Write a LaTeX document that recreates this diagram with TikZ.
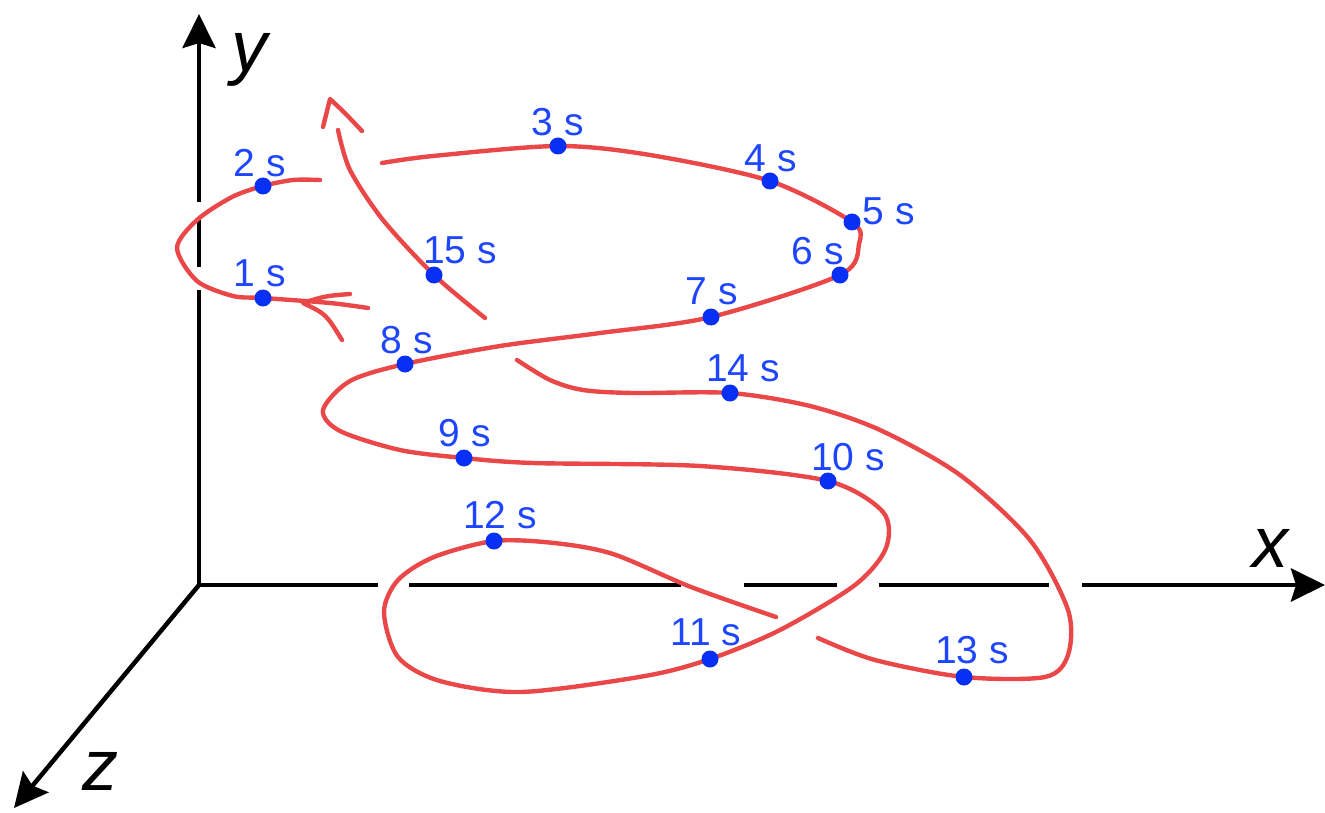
\documentclass[tikz,border=0pt]{standalone}
\usepackage{fontspec}
\setmainfont{Liberation Sans}
\usetikzlibrary{arrows.meta}
\definecolor{trajc}{RGB}{234,72,72}
\definecolor{dotb}{RGB}{8,48,245}
\definecolor{labb}{RGB}{30,70,255}
\tikzset{
  traj/.style={draw=trajc, line width=4.4pt, line cap=round, line join=round},
  axis/.style={draw=black, line width=4.5pt},
  axtip/.style={-{Stealth[length=34pt, width=33pt, inset=5pt]}},
  dot/.style={circle, fill=dotb, inner sep=0pt, minimum size=17pt},
  lbl/.style={text=labb, font=\fontsize{39}{42}\selectfont, inner sep=0pt},
  axlbl/.style={font=\fontsize{72}{80}\selectfont\itshape, inner sep=0pt}
}
\begin{document}
\begin{tikzpicture}[x=1pt,y=-1pt]
\useasboundingbox (0,0) rectangle (1325,813);

% axes
\coordinate (O) at (199,585);
\coordinate (Ytip) at (199,14);
\coordinate (Xtip) at (1325,585);
\coordinate (Ztip) at (14,808);
\draw[axis] (O) -- (199,290);
\draw[axis] (199,267) -- (199,220);
\draw[axis,axtip] (199,202) -- (Ytip);
\draw[axis] (O) -- (378,585);
\draw[axis] (409,585) -- (681,585);
\draw[axis] (744,585) -- (837,585);
\draw[axis] (879,585) -- (1049,585);
\draw[axis,axtip] (1082,585) -- (Xtip);
\draw[axis,axtip] (O) -- (Ztip);
\node[axlbl] (lx) at (1270,548) {x};
\node[axlbl] (ly) at (249,60) {y};
\node[axlbl] (lz) at (100,771) {z};

% trajectory
\draw[traj] plot[smooth] coordinates {(368,308) (330,303) (263,298) (233,296) (197,281) (177,248) (197,220) (232,197) (263,186) (293,180) (320,180)};
\draw[traj] plot[smooth] coordinates {(382,163) (433,156) (558,146) (650,155) (770,181) (852,222) (859,244) (840,275) (711,317) (600,333) (500,346) (405,364) (350,381) (323,410) (340,431) (400,450) (464,458) (533,463) (700,466) (828,481) (883,512) (886,548) (855,585) (780,630) (710,659) (645,676) (521,692) (440,681) (398,657) (384,612) (398,580) (434,557) (494,541) (554,543) (613,554) (691,587) (776,617)};
\draw[traj] plot[smooth] coordinates {(818,638) (875,660) (964,677) (1045,677) (1068,655) (1068,610) (1030,540) (960,475) (880,430) (810,406) (730,393) (633,393) (583,390) (550,380) (517,360)};
\draw[traj] plot[smooth] coordinates {(485,318) (434,275) (383,220) (350,170) (338,130)};
% arrow marks
\draw[traj] (350,294) .. controls (325,296) .. (303,303) .. controls (326,314) .. (342,340);
\draw[traj] (323,127) -- (330,99) .. controls (344,112) .. (362,131);

% dots
\node[dot] (t1) at (263,298) {};
\node[dot] (t2) at (263,186) {};
\node[dot] (t3) at (558,146) {};
\node[dot] (t4) at (770,181) {};
\node[dot] (t5) at (852,222) {};
\node[dot] (t6) at (840,275) {};
\node[dot] (t7) at (711,317) {};
\node[dot] (t8) at (405,364) {};
\node[dot] (t9) at (464,458) {};
\node[dot] (t10) at (828,481) {};
\node[dot] (t11) at (710,659) {};
\node[dot] (t12) at (494,541) {};
\node[dot] (t13) at (964,677) {};
\node[dot] (t14) at (730,393) {};
\node[dot] (t15) at (434,275) {};

% labels
\node[lbl] (l1) at (260,273) {1 s};
\node[lbl] (l2) at (260,163) {2 s};
\node[lbl] (l3) at (558,122) {3 s};
\node[lbl] (l4) at (771,158) {4 s};
\node[lbl] (l5) at (889,211) {5 s};
\node[lbl] (l6) at (818,251) {6 s};
\node[lbl] (l7) at (712,291) {7 s};
\node[lbl] (l8) at (407,340) {8 s};
\node[lbl] (l9) at (465,433) {9 s};
\node[lbl] (l10) at (848,457) {10 s};
\node[lbl] (l11) at (706,632) {11 s};
\node[lbl] (l12) at (500,515) {12 s};
\node[lbl] (l13) at (972,650) {13 s};
\node[lbl] (l14) at (743,368) {14 s};
\node[lbl] (l15) at (460,250) {15 s};
\end{tikzpicture}
\end{document}
